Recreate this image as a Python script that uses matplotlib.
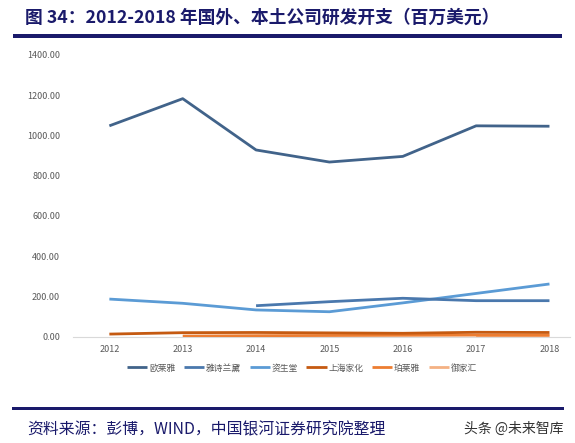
import matplotlib
matplotlib.use("Agg")
import matplotlib.pyplot as plt
import numpy as np

years = ["2012", "2013", "2014", "2015", "2016", "2017", "2018"]
loreal = [1048, 1183, 928, 868, 896, 1048, 1046]
estee = [None, None, 154, 174, 191, 179, 179]
shiseido = [187, 166, 133, 124, 168, 215, 262]
jahwa = [13, 20, 21, 19, 17, 22, 21]
proya = [None, 3, 5, 6, 7, 8, 8]
yujiahui = [None, None, None, None, None, 4, 5]
names = ["欧莱雅", "雅诗兰黛", "资生堂", "上海家化", "珀莱雅", "御家汇"]
colors = ["#41638a", "#4a78ad", "#5b9bd5", "#c55a11", "#ed7d31", "#f4b183"]

plt.rcParams['font.family'] = ['Noto Sans CJK SC', 'DejaVu Sans']

fig = plt.figure(figsize=(5.75, 4.43), dpi=100)
W, H = 575, 443

def ax_rect(x0, y0, x1, y1):
    return [x0 / W, 1 - y1 / H, (x1 - x0) / W, (y1 - y0) / H]

ax = fig.add_axes(ax_rect(72.7, 55, 570, 336.7))
x = np.arange(len(years))
series = [loreal, estee, shiseido, jahwa, proya, yujiahui]
order = [5, 4, 3, 2, 1, 0]
for i in order:
    vals = np.array([np.nan if v is None else v for v in series[i]], dtype=float)
    ax.plot(x, vals, color=colors[i], lw=2.0, label=names[i], zorder=3 + (5 - i),
            solid_capstyle='butt')

ax.set_xlim(-0.5, 6.28)
ax.set_ylim(0, 1400)
ax.set_yticks(np.arange(0, 1401, 200))
ax.set_yticklabels([f"{v:.2f}" for v in np.arange(0, 1401, 200)])
ax.set_xticks(x)
ax.set_xticklabels(years)
for s in ["top", "right", "left"]:
    ax.spines[s].set_visible(False)
ax.spines["bottom"].set_color("#d9d9d9")
ax.spines["bottom"].set_linewidth(0.8)
ax.tick_params(axis='both', length=0, labelsize=6.5, labelcolor="#595959")
ax.tick_params(axis='y', pad=9)
ax.tick_params(axis='x', pad=6)

handles, labels = ax.get_legend_handles_labels()
hmap = dict(zip(labels, handles))
leg = fig.legend([hmap[n] for n in names], names, loc='center',
                 bbox_to_anchor=(302 / W, 1 - 368 / H), ncol=6, frameon=False,
                 fontsize=6.3, handlelength=2.3, handletextpad=0.2, columnspacing=1.0)
for t in leg.get_texts():
    t.set_color("#595959")

navy = "#1a1a6b"
fig.text(25 / W, 1 - 18 / H, "图 34：2012-2018 年国外、本土公司研发开支（百万美元）",
         fontsize=12.8, fontweight='bold', color=navy, va='center', ha='left')
fig.add_artist(plt.Rectangle((13 / W, 1 - 37.5 / H), (562 - 13) / W, 3 / H,
                             transform=fig.transFigure, color=navy, lw=0))
fig.add_artist(plt.Rectangle((12 / W, 1 - 409.5 / H), (564 - 12) / W, 3 / H,
                             transform=fig.transFigure, color=navy, lw=0))
fig.text(27 / W, 1 - 430 / H, "资料来源：彭博，WIND，中国银河证券研究院整理",
         fontsize=11.4, color=navy, va='center', ha='left', style='italic')
fig.text(564 / W, 1 - 429 / H, "头条 @未来智库", fontsize=10, color="#333333",
         va='center', ha='right')

fig.savefig("out.png", dpi=100)
